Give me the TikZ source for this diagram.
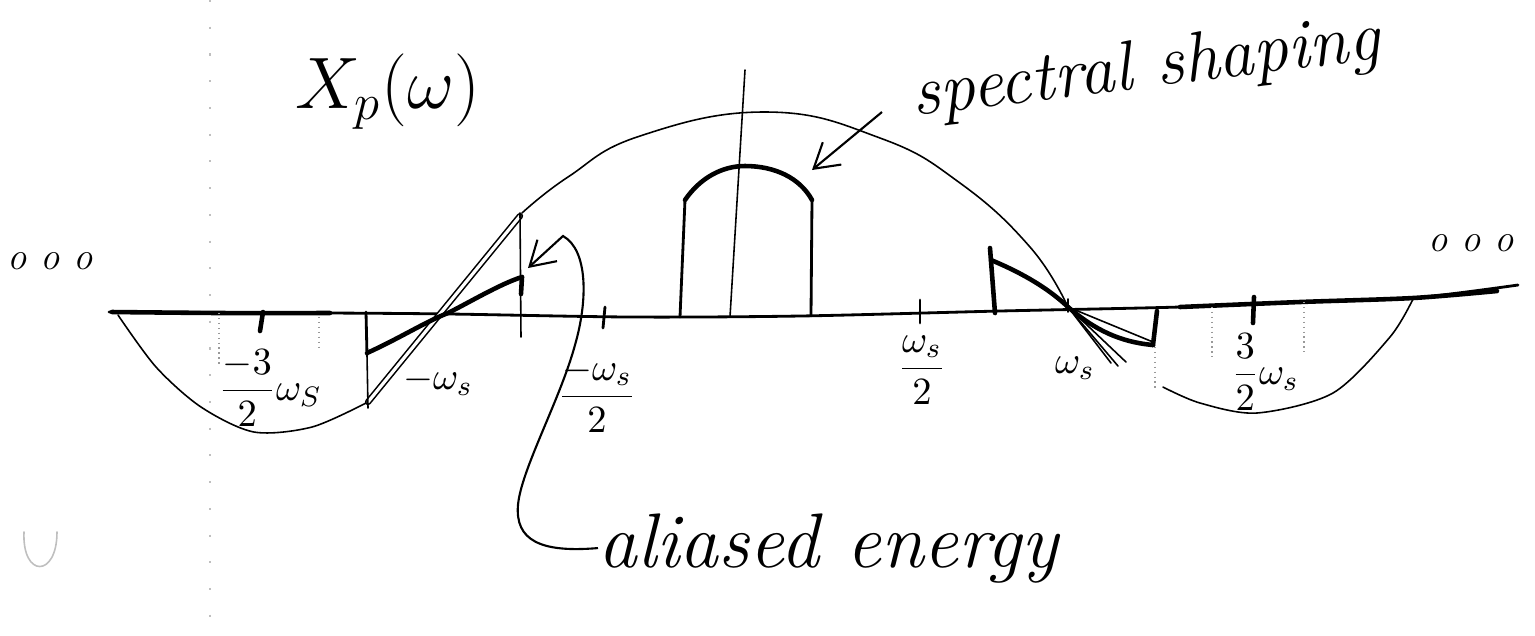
\documentclass[tikz,border=0pt]{standalone}
\usepackage{amsmath}
\usepackage{tikz}
\usetikzlibrary{arrows.meta}
\tikzset{
  skthin/.style={line width=0.45pt, line cap=round, line join=round},
  skmid/.style={line width=0.8pt, line cap=round, line join=round},
  skheavy/.style={line width=1.3pt, line cap=round, line join=round},
  skfaint/.style={densely dotted, line width=0.4pt, black!40},
  skarrow/.style={-{Straight Barb[length=2.4mm, width=2.9mm]}, line width=0.6pt},
}

\begin{document}
\begin{tikzpicture}[x=0.01cm, y=-0.01cm,
    sklabel/.style={font=\fontsize{11}{13}\selectfont, inner sep=1pt},
    skhand/.style={font=\fontsize{21}{24}\selectfont\itshape, inner sep=0pt},
    skdots/.style={font=\fontsize{11}{13}\selectfont\itshape, inner sep=0pt}]
  \useasboundingbox (0,0) rectangle (1535,635);
  \draw[skfaint, black!25, dash pattern=on 0.6pt off 7pt] (210,0) -- (210,635);
  \draw[skthin, black!25] (24,532) .. controls (22,578) and (57,578) .. (57,532);

  \draw[skmid] plot[smooth] coordinates {(109,312) (330,313) (450,314) (630,317) (800,316) (1000,311) (1180,307) (1300,302) (1413,298) (1518,285)};
  \draw[skheavy] plot[smooth] coordinates {(112,312) (220,313) (330,313)};
  \draw[skheavy] plot[smooth] coordinates {(1180,307) (1300,302) (1413,298) (1497,291)};
  \draw[skthin] (745,70) -- (730,317);

  \draw[skthin] plot[smooth, tension=0.75] coordinates {(522,213) (568,177) (640,136) (767,112) (880,138) (960,183) (1030,247) (1067,305)};
  \draw[skthin] plot[smooth] coordinates {(118,315) (156,367) (201,407) (254,432) (312,427) (366,403)};
  \draw[skthin] plot[smooth] coordinates {(1163,387) (1200,403) (1257,413) (1333,393) (1390,337) (1413,299)};

  \draw[skmid] (680,317) -- (685,200);
  \draw[skheavy] (685,200) .. controls (700,178) and (722,166) .. (745,166) .. controls (775,166) and (800,178) .. (812,200);
  \draw[skmid] (812,200) -- (811,316);

  \draw[skthin, double, double distance=0.9pt] (368,402) -- (520,216);
  \draw[skmid] (366,312) -- (367,355);
  \draw[skthin] (367,355) -- (368,408);
  \draw[skheavy] (367,353) .. controls (400,338) and (425,322) .. (448,313) .. controls (470,302) and (500,284) .. (522,277);
  \draw[skheavy] (522,277) -- (521,294);
  \draw[skthin] (520,213) -- (521,337);

  \draw[skheavy] (995,313) -- (990,248);
  \draw[skheavy] (991,260) .. controls (1015,270) and (1045,285) .. (1068,307);
  \draw[skheavy] (1068,307) .. controls (1095,330) and (1120,342) .. (1153,345);
  \draw[skthin] (1068,307) -- (1153,342);
  \draw[skheavy] (1153,345) -- (1157,311);
  \draw[skfaint] (1155,347) -- (1155,390);
  \foreach \tx/\ty in {1111/363, 1118/366, 1126/362}
    \draw[skthin] (1068,307) -- (\tx,\ty);

  \draw[skheavy] (263,312) -- (260,331);
  \draw[skmid] (605,307) -- (603,328);
  \draw[skmid] (920,300) -- (920,323);
  \draw[skthin] (1068,299) -- (1068,312);
  \draw[skheavy] (1254,297) -- (1253,323);
  \draw[skfaint] (219,313) -- (219,367);
  \draw[skfaint] (319,317) -- (319,348);
  \draw[skfaint] (1212,307) -- (1212,357);
  \draw[skfaint] (1304,302) -- (1304,352);

  \node[font=\fontsize{20}{24}\selectfont, inner sep=0pt] (xlabel) at (388,92) {$X_p(\omega)$};
  \node[skdots] (ldots) at (50,261) {o o o};
  \node[skdots] (rdots) at (1471,243) {o o o};
  \node[sklabel] (lthree) at (270,388) {$\dfrac{-3}{2}\omega_S$};
  \node[sklabel] (lone) at (438,381) {$-\omega_s$};
  \node[sklabel] (lhalf) at (597,395) {$\dfrac{-\omega_s}{2}$};
  \node[sklabel] (rhalf) at (922,370) {$\dfrac{\omega_s}{2}$};
  \node[sklabel] (rone) at (1075,368) {$\omega_s$};
  \node[sklabel] (rthree) at (1265,372) {$\dfrac{3}{2}\omega_s$};

  \node[skhand, font=\fontsize{20}{24}\selectfont\itshape, rotate=7] (spec) at (1146,70) {spectral shaping};
  \coordinate (specFrom) at (882,112);
  \coordinate (specTip) at (812,170);
  \draw[skarrow] (specFrom) -- (specTip);

  \node[skhand, font=\fontsize{22}{24}\selectfont\itshape, anchor=base west] (alias) at (598,567) {aliased energy};
  \coordinate (aliasTip) at (528,268);
  \draw[skarrow] (alias.west) .. controls (540,553) and (515,540) .. (518,505)
    .. controls (521,470) and (560,400) .. (575,345)
    .. controls (588,300) and (588,250) .. (563,236) -- (aliasTip);
\end{tikzpicture}
\end{document}
